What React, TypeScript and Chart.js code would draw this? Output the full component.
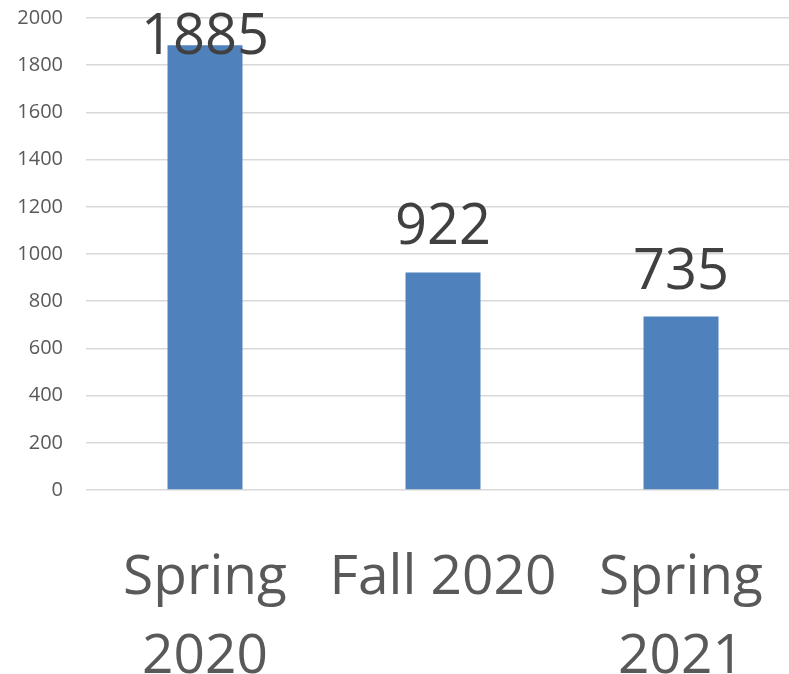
import React, { useEffect, useRef } from "react";
import { Chart, registerables } from "chart.js";

Chart.register(...registerables);

const categories: (string | string[])[] = [["Spring", "2020"], "Fall 2020", ["Spring", "2021"]];
const values: number[] = [1885, 922, 735];
const yTicks: number[] = [0, 200, 400, 600, 800, 1000, 1200, 1400, 1600, 1800, 2000];

const FONT = "'Open Sans', 'DejaVu Sans', sans-serif";

const dataLabelPlugin = {
  id: "dataLabels",
  afterDatasetsDraw(chart: any) {
    const ctx = chart.ctx;
    const meta = chart.getDatasetMeta(0);
    ctx.save();
    ctx.font = `56px ${FONT}`;
    ctx.fillStyle = "#404040";
    ctx.textAlign = "center";
    ctx.textBaseline = "alphabetic";
    meta.data.forEach((bar: any, i: number) => {
      let baseline = bar.y - 28;
      const minBaseline = 54;
      if (baseline < minBaseline) baseline = minBaseline;
      ctx.fillText(String(values[i]), bar.x, baseline);
    });
    ctx.restore();
  },
};

export default function App() {
  const ref = useRef<HTMLCanvasElement | null>(null);
  useEffect(() => {
    if (!ref.current) return;
    const chart = new Chart(ref.current, {
      type: "bar",
      data: {
        labels: categories,
        datasets: [
          {
            data: values,
            backgroundColor: "#4F81BD",
            borderWidth: 0,
            categoryPercentage: 1,
            barPercentage: 0.315,
          },
        ],
      },
      options: {
        responsive: false,
        animation: false,
        devicePixelRatio: 1,
        layout: { padding: { top: 18, left: 0, right: 0, bottom: 0 } },
        plugins: { legend: { display: false }, tooltip: { enabled: false } },
        scales: {
          x: {
            grid: { display: false, drawTicks: false },
            border: { display: false },
            ticks: {
              color: "#595959",
              font: { family: FONT, size: 55, lineHeight: 1.43 },
              padding: 49,
              maxRotation: 0,
              autoSkip: false,
            },
            afterFit: (scale: any) => {
              scale.height = 184;
              scale.paddingTop = 0;
              scale.paddingBottom = 0;
              scale.paddingLeft = 0;
              scale.paddingRight = 0;
            },
          },
          y: {
            min: 0,
            max: 2000,
            afterBuildTicks: (scale: any) => {
              scale.ticks = yTicks.map((v) => ({ value: v }));
            },
            grid: { color: "#D9D9D9", lineWidth: 1.5, drawTicks: false },
            border: { display: false },
            ticks: {
              color: "#595959",
              font: { family: FONT, size: 20 },
              padding: 23,
              callback: (v: any) => String(v),
            },
            afterFit: (scale: any) => {
              scale.width = 86;
              scale.paddingTop = 0;
              scale.paddingBottom = 0;
              scale.paddingLeft = 0;
              scale.paddingRight = 0;
            },
          },
        },
      },
      plugins: [dataLabelPlugin],
    } as any);
    return () => chart.destroy();
  }, []);
  return (
    <div
      style={{
        position: "fixed",
        left: 0,
        top: 0,
        width: 789,
        height: 674,
        overflow: "hidden",
        background: "#ffffff",
      }}
    >
      <canvas ref={ref} width={800} height={674} style={{ display: "block" }} />
    </div>
  );
}
